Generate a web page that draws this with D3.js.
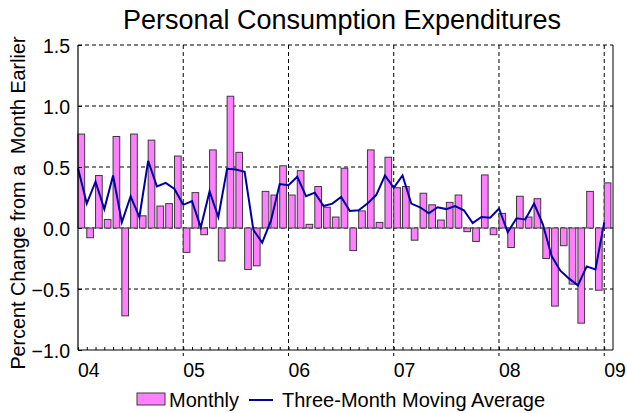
<!DOCTYPE html>
<html>
<head>
<meta charset="utf-8">
<script src="https://cdn.jsdelivr.net/npm/d3@7"></script>
<style>
  body { margin: 0; background: #fff; }
  text { font-family: Arial, "Liberation Sans", sans-serif; fill: #000; }
</style>
</head>
<body>
<div id="graph1"></div>
<script>
const years = ['04', '05', '06', '07', '08', '09'];
const yTicks = [1.5, 1.0, 0.5, 0.0, -0.5, -1.0];

// Jan 2004 .. Jan 2009, percent change from a month earlier
const monthly = [
  0.77, -0.08, 0.43, 0.07, 0.75, -0.72, 0.77, 0.10, 0.72, 0.18, 0.20, 0.59,
  -0.20, 0.29, -0.055, 0.64, -0.27, 1.08, 0.62, -0.34, -0.31, 0.30, 0.27, 0.51,
  0.27, 0.47, 0.03, 0.34, 0.17, 0.09, 0.49, -0.185, 0.14, 0.64, 0.046, 0.58,
  0.33, 0.34, -0.10, 0.285, 0.19, 0.065, 0.21, 0.27, -0.03, -0.11, 0.435, -0.055,
  0.12, -0.16, 0.26, 0.09, 0.24, -0.25, -0.64, -0.145, -0.46, -0.78, 0.30, -0.51,
  0.37
];

const movingAvg = [
  0.49, 0.20, 0.38, 0.155, 0.43, 0.046, 0.26, 0.09, 0.55, 0.34, 0.37, 0.32,
  0.19, 0.22, 0.005, 0.30, 0.09, 0.486, 0.48, 0.46, -0.016, -0.12, 0.06, 0.36,
  0.35, 0.42, 0.26, 0.29, 0.18, 0.20, 0.255, 0.14, 0.145, 0.20, 0.27, 0.43,
  0.33, 0.43, 0.20, 0.17, 0.12, 0.17, 0.155, 0.18, 0.145, 0.04, 0.09, 0.085,
  0.16, -0.035, 0.08, 0.07, 0.20, 0.03, -0.23, -0.35, -0.415, -0.47, -0.315, -0.34,
  0.046
];

const margin = {top: 45, right: 14, bottom: 63, left: 78};
const fullW = 627;
const fullH = 413;
const width = fullW - margin.left - margin.right;
const height = fullH - margin.top - margin.bottom;

const svg = d3.select('#graph1')
  .append('svg')
    .attr('width', fullW)
    .attr('height', fullH);

svg.append('text')
  .attr('x', 342)
  .attr('y', 29)
  .attr('text-anchor', 'middle')
  .style('font-size', '27px')
  .text('Personal Consumption Expenditures');

svg.append('text')
  .attr('transform', 'translate(24.5,203) rotate(-90)')
  .attr('text-anchor', 'middle')
  .style('font-size', '19.8px')
  .attr('xml:space', 'preserve')
  .text('Percent Change from a  Month Earlier');

const g = svg.append('g')
  .attr('transform', `translate(${margin.left},${margin.top})`);

const x = d3.scaleLinear()
  .domain([0, monthly.length])
  .range([0, width]);

const y = d3.scaleLinear()
  .domain([-1, 1.5])
  .range([height, 0]);

const barW = x(1) - x(0) - 2.1;

// horizontal grid
g.append('g')
  .selectAll('line')
  .data(yTicks.filter(d => d > -1))
  .enter()
  .append('line')
    .attr('x1', 0)
    .attr('x2', width)
    .attr('y1', d => y(d))
    .attr('y2', d => y(d))
    .style('stroke', '#000')
    .style('stroke-width', 1)
    .style('stroke-dasharray', '4,3');

// vertical year grid
g.append('g')
  .selectAll('line')
  .data(years.slice(1))
  .enter()
  .append('line')
    .attr('x1', (d, i) => x((i + 1) * 12))
    .attr('x2', (d, i) => x((i + 1) * 12))
    .attr('y1', 0)
    .attr('y2', height + 6)
    .style('stroke', '#000')
    .style('stroke-width', 1)
    .style('stroke-dasharray', '4,3');

// bars
g.append('g')
  .selectAll('rect')
  .data(monthly)
  .enter()
  .append('rect')
    .attr('x', (d, i) => x(i))
    .attr('y', d => y(Math.max(0, d)))
    .attr('width', barW)
    .attr('height', d => Math.abs(y(d) - y(0)))
    .style('fill', '#ff80ff')
    .style('stroke', '#3a3a3a')
    .style('stroke-width', 1);

// moving average line
g.append('path')
  .datum(movingAvg)
  .attr('fill', 'none')
  .attr('stroke', '#0000a0')
  .attr('stroke-width', 2)
  .attr('d', d3.line()
    .x((d, i) => x(i))
    .y(d => y(d)));

// axes
const yAxis = g.append('g')
  .call(d3.axisLeft(y).tickValues(yTicks).tickSize(-4).tickPadding(8)
    .tickFormat(d3.format('.1f')));
yAxis.select('.domain').remove();
yAxis.selectAll('text').style('font-size', '19.5px').attr('dy', '0.36em');
yAxis.selectAll('line').style('stroke', '#000');

const xAxis = g.append('g')
  .attr('transform', `translate(0,${height})`)
  .call(d3.axisBottom(x).tickValues(d3.range(0, monthly.length)).tickSize(-3).tickFormat(''));
xAxis.select('.domain').remove();
xAxis.selectAll('line').style('stroke', '#000');

g.append('g')
  .selectAll('text')
  .data(years)
  .enter()
  .append('text')
    .attr('x', (d, i) => x(i * 12))
    .attr('y', height + 26.5)
    .style('font-size', '19.5px')
    .text(d => d);

// frame
g.append('line')
  .attr('x1', 0).attr('x2', 0).attr('y1', 0).attr('y2', height)
  .style('stroke', '#000').style('stroke-width', 1.2);
g.append('line')
  .attr('x1', 0).attr('x2', width).attr('y1', height).attr('y2', height)
  .style('stroke', '#000').style('stroke-width', 1.2);
g.append('line')
  .attr('x1', width).attr('x2', width).attr('y1', 0).attr('y2', height)
  .style('stroke', '#000').style('stroke-width', 1);

// legend
const legend = svg.append('g');
legend.append('rect')
  .attr('x', 137)
  .attr('y', 393)
  .attr('width', 28)
  .attr('height', 12)
  .style('fill', '#ff80ff')
  .style('stroke', '#3a3a3a')
  .style('stroke-width', 1);
legend.append('text')
  .attr('x', 169)
  .attr('y', 406.5)
  .style('font-size', '20px')
  .text('Monthly');
legend.append('line')
  .attr('x1', 249).attr('x2', 273)
  .attr('y1', 400).attr('y2', 400)
  .style('stroke', '#0000a0')
  .style('stroke-width', 2);
legend.append('text')
  .attr('x', 282)
  .attr('y', 406.5)
  .style('font-size', '20px')
  .text('Three-Month Moving Average');
</script>
</body>
</html>
